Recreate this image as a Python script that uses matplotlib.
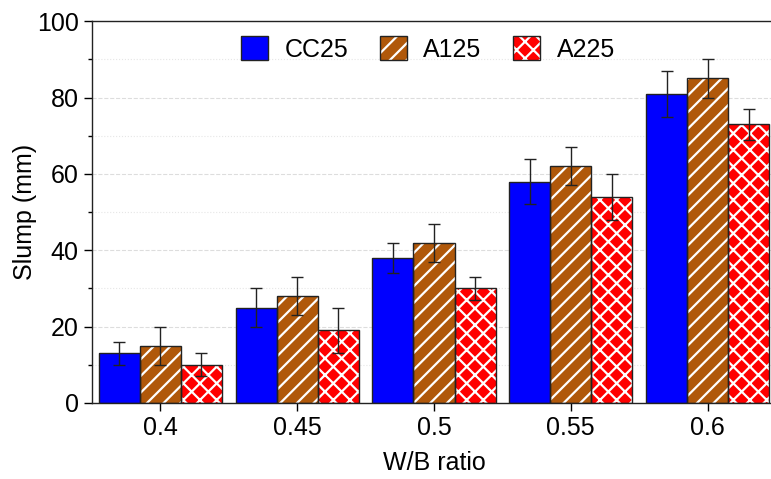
import matplotlib.pyplot as plt
import numpy as np
from matplotlib.ticker import MultipleLocator

plt.rcParams['font.family'] = ['Liberation Sans', 'DejaVu Sans']
plt.rcParams['hatch.linewidth'] = 1.6

# data
wb_labels = ['0.4', '0.45', '0.5', '0.55', '0.6']
series_names = ['CC25', 'A125', 'A225']
cc25 = [13, 25, 38, 58, 81]
a125 = [15, 28, 42, 62, 85]
a225 = [10, 19, 30, 54, 73]
cc25_err = [3, 5, 4, 6, 6]
a125_err = [5, 5, 5, 5, 5]
a225_err = [3, 6, 3, 6, 4]

colors = ['#0000FF', '#B0580A', '#FF0000']
hatches = [None, '//', 'xx']

fig = plt.figure(figsize=(7.71, 4.79), dpi=100)
ax = fig.add_axes([0.1193, 0.1587, 0.8872, 0.797])

x = np.arange(len(wb_labels))
w = 0.3
handles = []
for i, (vals, errs) in enumerate(zip([cc25, a125, a225], [cc25_err, a125_err, a225_err])):
    pos = x + (i - 1) * w
    fill = ax.bar(pos, vals, w, color=colors[i], hatch=hatches[i],
                  edgecolor='white', linewidth=0, zorder=2)
    outline = ax.bar(pos, vals, w, fill=False, edgecolor='#222222',
                     linewidth=1.0, zorder=3)
    ax.errorbar(pos, vals, yerr=errs, fmt='none', ecolor='#222222',
                elinewidth=1.0, capsize=4, capthick=1.0, zorder=4)
    handles.append((fill, outline))

ax.set_xlim(-0.5, 4.5)
ax.set_ylim(0, 100)
ax.set_xticks(x)
ax.set_xticklabels(wb_labels)
ax.yaxis.set_major_locator(MultipleLocator(20))
ax.yaxis.set_minor_locator(MultipleLocator(10))
ax.tick_params(axis='both', which='major', labelsize=18, direction='out', length=6, width=1)
ax.tick_params(axis='y', which='minor', direction='out', length=3, width=1)
ax.grid(axis='y', which='major', linestyle='--', color='#dddddd', linewidth=0.8, zorder=0)
ax.grid(axis='y', which='minor', linestyle=':', color='#e6e6e6', linewidth=0.8, zorder=0)
ax.set_axisbelow(True)
for s in ax.spines.values():
    s.set_linewidth(1.0)
    s.set_color('#222222')

ax.set_xlabel('W/B ratio', fontsize=18, labelpad=8)
ax.set_ylabel('Slump (mm)', fontsize=18, labelpad=0)

ax.legend(handles, series_names, loc='upper center', ncol=3, frameon=False,
          fontsize=18, handlelength=1.1, handleheight=1.1, columnspacing=1.25,
          handletextpad=0.65, borderaxespad=0.2, bbox_to_anchor=(0.491, 1.0))

fig.savefig('out.png', dpi=100)
